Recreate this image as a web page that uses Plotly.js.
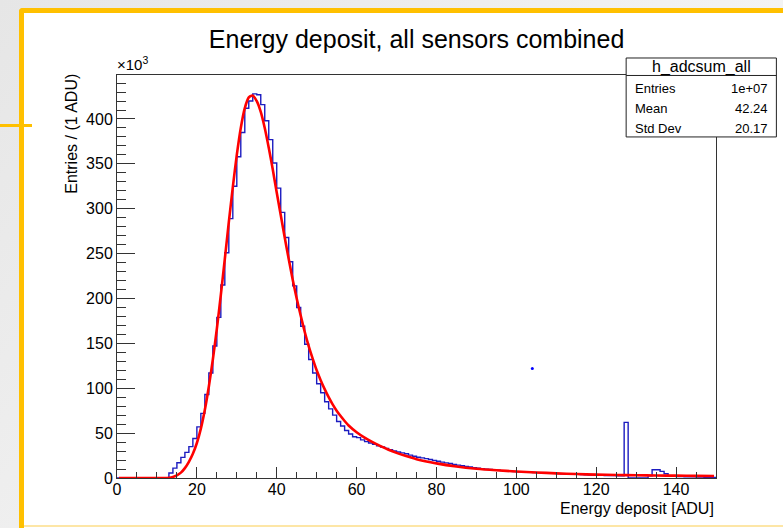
<!DOCTYPE html>
<html>
<head>
<meta charset="utf-8">
<script src="https://cdn.plot.ly/plotly-3.0.1.min.js"></script>
<style>
  html, body { margin:0; padding:0; }
  body { width:783px; height:528px; overflow:hidden; position:relative;
         background: linear-gradient(135deg, #e6e6e6 0%, #f3f3f3 60%, #f6f6f6 100%); }
  #frame { position:absolute; left:19px; top:8px; width:800px; height:517px;
           border-left:5px solid #ffc000; border-top:5px solid #ffc000;
           border-top-left-radius:4px; background:#ffffff; }
  #tick { position:absolute; left:0; top:124px; width:32px; height:3px; background:#ffc000; }
  #bottom { position:absolute; left:24px; top:525px; width:760px; height:2px; background:#fde6a6; }
  #chart { position:absolute; left:0; top:0; width:783px; height:528px; }
</style>
</head>
<body>
<div id="frame"></div>
<div id="tick"></div>
<div id="bottom"></div>
<div id="chart"></div>
<script>
// Histogram h_adcsum_all: entries per 1-ADU bin (in units of 10^3), bins 0..149
const counts = [
  0,0,0,0,0,0,0,0,0,0,0,0,0,
  5.5,11,17,23,28.5,35,44,57,72,93,117,147,179,215,251,289,325,358,385,412,420,428,427,
  416,398,377,351,323,296,268,241,214,190,169,149,132,117,105,95,85,77,70,63,58,53,49,46,
  45,42.5,40.5,39,37.5,36,34.5,33,31.5,30,29,28,27,25.5,24.3,23.2,22.4,21.6,20.6,19.6,
  18.6,17.7,16.9,16.1,15.2,14.3,13.6,13.0,12.3,11.6,11.0,10.4,9.9,9.4,9.0,8.6,8.2,7.9,7.6,7.3,
  7.0,6.8,6.6,6.4,6.2,6.0,5.8,5.6,5.4,5.1,4.9,4.7,4.5,4.3,4.1,4.0,3.8,3.6,3.4,3.2,
  3.0,2.9,2.8,2.7,2.6,2.5,2.4,62,0,0,0,0,0,2.5,9.2,9.2,7.4,4.8,2.6,1.8,
  1.6,1.5,1.4,1.3,1.2,1.1,1.0,0.9,0.8,0.5
];
const binWidth = 1;
const xMin = 0, xMax = 150;

// Fit curve (red)
const fitX = [0.5,5,10,12,13,14,15,16,17,18,19,20,21,22,23,24,25,26,27,28,29,30,31,32,33,33.7,34,35,
  36,37,38,39,40,41,42,43,44,45,46,47,48,49,50,51,52,53,54,55,56,57,58,60,62,64,66,68,70,72,75,
  80,85,90,95,100,105,110,115,120,125,130,135,140,145,149.5];
const fitY = [0,0,0,0,0.3,1.2,3,6,11,18,27,39,55,76,102,132,166,204,244,285,324,360,390,412,424,426,426,420,
  408,390,368,344,318,293,268,244,221,200,181,163,147,133,120,109,99,90,82,75,69,63.5,58.5,51,45,40,35.5,31.5,28,25,21,
  16.3,12.8,10.3,8.6,7.3,6.2,5.2,4.4,3.8,3.4,3.1,2.8,2.6,2.4,2.3];

// stray point seen in the picture
const strayX = [104];
const strayY = [122];

// Stats box
const statsName = "h_adcsum_all";
const statsLabels = ["Entries", "Mean", "Std Dev"];
const statsValues = ["1e+07", "42.24", "20.17"];

// Build step outline from bin edges
const edges = counts.map((c, i) => xMin + i * binWidth);
const stepX = edges.concat([xMax]);
const stepY = counts.concat([counts[counts.length - 1]]);

const FONT = "Liberation Sans, Arial, Helvetica, sans-serif";

const traces = [
  { type:"scatter", mode:"lines", x: stepX, y: stepY,
    line:{ shape:"hv", color:"#1c1cc0", width:1.4 }, cliponaxis:false, hoverinfo:"skip" },
  { type:"scatter", mode:"lines", x: fitX, y: fitY,
    line:{ shape:"spline", smoothing:0.6, color:"#ff0000", width:2.6 }, cliponaxis:false, hoverinfo:"skip" },
  { type:"scatter", mode:"markers", x: strayX, y: strayY,
    marker:{ color:"#0000ff", size:3 }, hoverinfo:"skip" }
];

// stats box geometry (paper coords of plot area)
const bx0 = 0.850, bx1 = 1.1008, by0 = 0.8463, by1 = 1.0422, byH = 0.9988;
const rowY = [0.9660, 0.9165, 0.8668];

const annotations = [
  { text:"Entries / (1 ADU)", xref:"paper", yref:"paper", x:-0.0755, y:0.8537,
    textangle:-90, showarrow:false, font:{family:FONT, size:16, color:"#000"}, xanchor:"center", yanchor:"middle" },
  { text:"Energy deposit [ADU]", xref:"paper", yref:"paper", x:1.0, y:-0.0755,
    showarrow:false, font:{family:FONT, size:16, color:"#000"}, xanchor:"right", yanchor:"middle" },
  { text:"×10<sup>3</sup>", xref:"paper", yref:"paper", x:-0.004, y:1.0, yshift:0,
    showarrow:false, font:{family:FONT, size:15, color:"#000"}, xanchor:"left", yanchor:"bottom" },
  { text:statsName, xref:"paper", yref:"paper", x:(bx0+bx1)/2, y:(by1+byH)/2,
    showarrow:false, font:{family:FONT, size:16, color:"#000"}, xanchor:"center", yanchor:"middle" }
];
statsLabels.forEach((lab, i) => {
  annotations.push({ text:lab, xref:"paper", yref:"paper", x:bx0 + 0.011, y:rowY[i],
    showarrow:false, font:{family:FONT, size:13, color:"#000"}, xanchor:"left", yanchor:"middle" });
  annotations.push({ text:statsValues[i], xref:"paper", yref:"paper", x:bx1 - 0.01, y:rowY[i],
    showarrow:false, font:{family:FONT, size:13, color:"#000"}, xanchor:"right", yanchor:"middle" });
});

const layout = {
  width:783, height:528,
  margin:{ l:117, r:67, t:75, b:50, pad:0 },
  paper_bgcolor:"rgba(0,0,0,0)", plot_bgcolor:"#ffffff",
  showlegend:false,
  font:{ family:FONT, size:16, color:"#000" },
  title:{ text:"Energy deposit, all sensors combined", x:0.532, xanchor:"center",
          y:0.926, yanchor:"middle", font:{ family:FONT, size:25, color:"#000" } },
  xaxis:{ range:[xMin, xMax], showgrid:false, zeroline:false,
          showline:true, linecolor:"#333", linewidth:1, mirror:true,
          ticks:"inside", ticklen:11, tickcolor:"#333", tickwidth:1, ticklabelstandoff:-3,
          tick0:0, dtick:20, tickfont:{family:FONT, size:16, color:"#000"},
          minor:{ ticks:"inside", ticklen:6, dtick:5, tickcolor:"#333", showgrid:false } },
  yaxis:{ range:[0, 449], showgrid:false, zeroline:false,
          showline:true, linecolor:"#333", linewidth:1, mirror:true,
          ticks:"inside", ticklen:18, tickcolor:"#333", tickwidth:1,
          tick0:0, dtick:50, tickfont:{family:FONT, size:16, color:"#000"},
          minor:{ ticks:"inside", ticklen:9, dtick:10, tickcolor:"#333", showgrid:false } },
  shapes:[
    { type:"rect", xref:"paper", yref:"paper", x0:bx0, x1:bx1, y0:by0, y1:by1,
      line:{ color:"#222", width:1 }, fillcolor:"#ffffff", layer:"above" },
    { type:"line", xref:"paper", yref:"paper", x0:bx0, x1:bx1, y0:byH, y1:byH,
      line:{ color:"#222", width:1 }, layer:"above" }
  ],
  annotations: annotations
};

Plotly.newPlot("chart", traces, layout, { staticPlot:true, displayModeBar:false });
</script>
</body>
</html>
